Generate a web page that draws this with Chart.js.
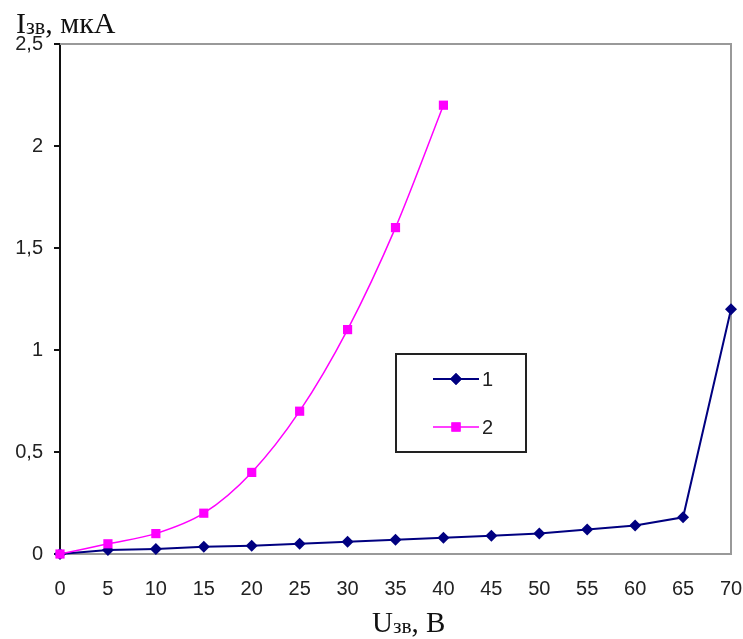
<!DOCTYPE html>
<html>
<head>
<meta charset="utf-8">
<script src="https://cdn.jsdelivr.net/npm/chart.js@4.4.1/dist/chart.umd.min.js"></script>
<style>
  html, body { margin: 0; padding: 0; background: #fff; }
  #wrap { position: relative; width: 743px; height: 639px; }
  canvas { position: absolute; left: 0; top: 0; }
  .lbl { position: absolute; font-family: "Liberation Serif", "Times New Roman", serif; color: #111; white-space: nowrap; line-height: 1; }
  .lbl .s { font-size: 0.74em; position: relative; top: 1px; }
</style>
</head>
<body>
<div id="wrap">
  <canvas id="c" width="743" height="639"></canvas>
  <div class="lbl" id="ylab" style="left:16px; top:8px; font-size:30px;">I<span class="s">зв</span>, мкА</div>
  <div class="lbl" id="xlab" style="left:372px; top:608px; font-size:29px;">U<span class="s">зв</span>, В</div>
</div>
<script>
const xValues = [0, 5, 10, 15, 20, 25, 30, 35, 40, 45, 50, 55, 60, 65, 70];
const series1 = [0, 0.02, 0.025, 0.035, 0.04, 0.05, 0.06, 0.07, 0.08, 0.09, 0.1, 0.12, 0.14, 0.18, 1.2];
const series2 = [0, 0.05, 0.1, 0.2, 0.4, 0.7, 1.1, 1.6, 2.2];
const seriesNames = ['1', '2'];
const yTicks = [0, 0.5, 1, 1.5, 2, 2.5];

const blue = '#000080';
const pink = '#FF00FF';

function toPoints(vals) {
  return vals.map((v, i) => ({ x: xValues[i], y: v }));
}

const frame = {
  id: 'frame',
  beforeDatasetsDraw(chart) {
    const { ctx, chartArea: a } = chart;
    ctx.save();
    ctx.strokeStyle = '#999';
    ctx.lineWidth = 2;
    ctx.beginPath();
    ctx.moveTo(a.left, a.top);
    ctx.lineTo(a.right, a.top);
    ctx.lineTo(a.right, a.bottom);
    ctx.stroke();
    ctx.restore();
  }
};

const legendBox = {
  id: 'legendBox',
  afterDraw(chart) {
    const { ctx } = chart;
    const bx = 396, by = 354, bw = 130, bh = 98;
    ctx.save();
    ctx.strokeStyle = '#222';
    ctx.lineWidth = 2;
    ctx.strokeRect(bx, by, bw, bh);
    const rows = [
      { y: 379, color: blue, style: 'rectRot', r: 6, w: 2 },
      { y: 427, color: pink, style: 'rect', r: 6.5, w: 1.5 }
    ];
    rows.forEach((row, i) => {
      ctx.strokeStyle = row.color;
      ctx.lineWidth = row.w;
      ctx.beginPath();
      ctx.moveTo(433, row.y);
      ctx.lineTo(479, row.y);
      ctx.stroke();
      ctx.fillStyle = row.color;
      Chart.helpers.drawPoint(ctx, { pointStyle: row.style, radius: row.r, borderWidth: 0, rotation: 0 }, 456, row.y);
      ctx.fill();
      ctx.fillStyle = '#222';
      ctx.font = '20px "Liberation Sans", Arial, sans-serif';
      ctx.textBaseline = 'middle';
      ctx.textAlign = 'left';
      ctx.fillText(seriesNames[i], 482, row.y + 1);
    });
    ctx.restore();
  }
};

new Chart(document.getElementById('c'), {
  type: 'line',
  data: {
    datasets: [
      {
        label: seriesNames[0],
        data: toPoints(series1),
        borderColor: blue,
        backgroundColor: blue,
        borderWidth: 2,
        pointStyle: 'rectRot',
        pointRadius: 6,
        pointBorderWidth: 0,
        tension: 0,
        clip: false,
        order: 1
      },
      {
        label: seriesNames[1],
        data: toPoints(series2),
        borderColor: pink,
        backgroundColor: pink,
        borderWidth: 1.5,
        pointStyle: 'rect',
        pointRadius: 6.5,
        pointBorderWidth: 0,
        tension: 0.3,
        clip: false,
        order: 0
      }
    ]
  },
  options: {
    responsive: false,
    animation: false,
    events: [],
    layout: { padding: { top: 44, right: 12, left: 0, bottom: 0 } },
    plugins: { legend: { display: false }, tooltip: { enabled: false } },
    scales: {
      x: {
        type: 'linear',
        min: 0,
        max: 70,
        afterFit(s) { s.height = 85; s.paddingLeft = 0; s.paddingRight = 0; },
        afterBuildTicks(s) { s.ticks = xValues.map(v => ({ value: v })); },
        grid: { display: true, drawOnChartArea: false, drawTicks: false },
        border: { display: true, color: '#999', width: 2 },
        ticks: {
          padding: 23,
          color: '#222',
          font: { family: '"Liberation Sans", Arial, sans-serif', size: 20 },
          maxRotation: 0,
          autoSkip: false,
          callback: v => String(v)
        }
      },
      y: {
        type: 'linear',
        min: 0,
        max: 2.5,
        afterFit(s) { s.width = 60; s.paddingTop = 0; s.paddingBottom = 0; },
        afterBuildTicks(s) { s.ticks = yTicks.map(v => ({ value: v })); },
        grid: { display: true, drawOnChartArea: false, drawTicks: true, tickLength: 6, color: '#111', lineWidth: 2 },
        border: { display: true, color: '#111', width: 2 },
        ticks: {
          padding: 11,
          color: '#222',
          font: { family: '"Liberation Sans", Arial, sans-serif', size: 20 },
          autoSkip: false,
          callback: v => String(v).replace('.', ',')
        }
      }
    }
  },
  plugins: [frame, legendBox]
});
</script>
</body>
</html>
